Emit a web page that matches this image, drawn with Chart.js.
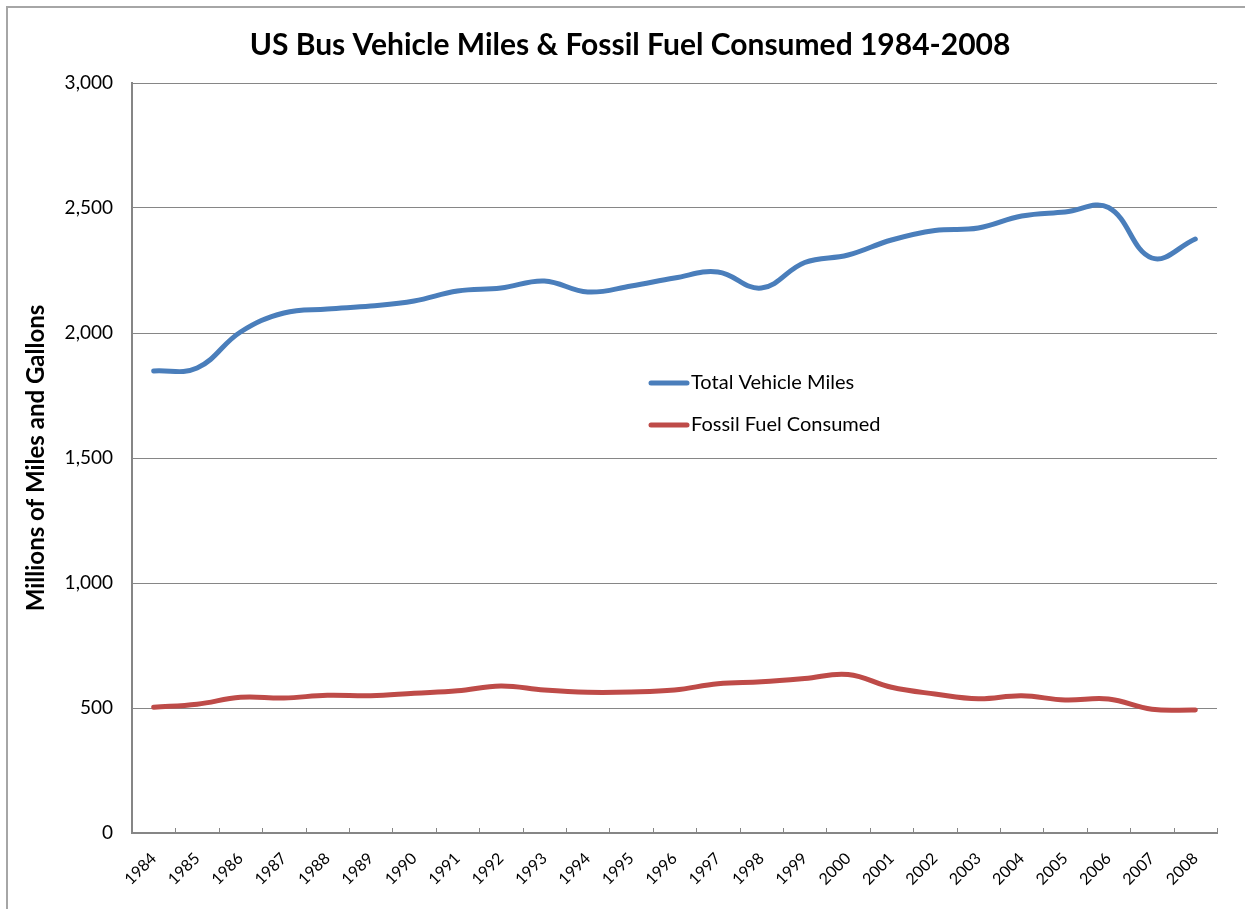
<html lang="en">
<head>
  <meta charset="UTF-8">
  <title>US Bus Vehicle Miles &amp; Fossil Fuel Consumed</title>
  <script src="https://cdn.jsdelivr.net/npm/chart.js"></script>
  <style>
    body { margin: 0; background: #fff; }
    #wrap { position: relative; width: 1245px; height: 909px; }
  </style>
</head>
<body>
  <div id="wrap">
    <canvas id="busChart" width="1245" height="909"></canvas>
  </div>
  <script>
    const years = ["1984", "1985", "1986", "1987", "1988", "1989", "1990", "1991", "1992",
      "1993", "1994", "1995", "1996", "1997", "1998", "1999", "2000", "2001", "2002",
      "2003", "2004", "2005", "2006", "2007", "2008"];

    // millions of miles
    const vehicleMiles = [1848, 1860, 2004, 2080, 2096, 2108, 2128, 2168, 2180,
      2208, 2164, 2188, 2220, 2244, 2180, 2282, 2312, 2372, 2410,
      2420, 2468, 2484, 2502, 2300, 2376];

    // millions of gallons
    const fuelConsumed = [503, 515, 543, 540, 551, 549, 559, 569, 588,
      572, 563, 564, 572, 597, 605, 618, 634, 583, 556,
      537, 549, 532, 536, 495, 492];

    const yTicks = [0, 500, 1000, 1500, 2000, 2500, 3000];

    const chartTitle = 'US Bus Vehicle Miles & Fossil Fuel Consumed 1984-2008';
    const FONT = "Lato, 'Open Sans', sans-serif";
    const gridGray = '#868686';

    // white page, thin frame on the top and left edge, and the title
    const framePlugin = {
      id: 'frame',
      beforeDraw(chart) {
        const ctx = chart.ctx;
        ctx.save();
        ctx.fillStyle = '#fff';
        ctx.fillRect(0, 0, chart.width, chart.height);
        ctx.strokeStyle = '#a6a6a6';
        ctx.lineWidth = 2;
        ctx.beginPath();
        ctx.moveTo(7, chart.height);
        ctx.lineTo(7, 7);
        ctx.lineTo(chart.width, 7);
        ctx.stroke();

        ctx.fillStyle = '#000';
        ctx.font = `bold 30px ${FONT}`;
        ctx.textAlign = 'center';
        ctx.textBaseline = 'middle';
        ctx.fillText(chartTitle, 630, 45);
        ctx.restore();
      }
    };

    // short tick marks pointing up into the plot, between the years
    const innerTicks = {
      id: 'innerTicks',
      afterDraw(chart) {
        const x = chart.scales.x;
        const ctx = chart.ctx;
        ctx.save();
        ctx.strokeStyle = gridGray;
        ctx.lineWidth = 1;
        ctx.beginPath();
        for (let i = 0; i <= years.length; i++) {
          const px = Math.round(x.getPixelForValue(i - 0.5)) + 0.5;
          ctx.moveTo(px, x.top);
          ctx.lineTo(px, x.top - 5);
        }
        ctx.stroke();
        ctx.restore();
      }
    };

    // legend sits inside the plot, stacked
    const innerLegend = {
      id: 'innerLegend',
      afterDatasetsDraw(chart) {
        const ctx = chart.ctx;
        const x0 = 651, y0 = 383, gap = 42;
        ctx.save();
        ctx.font = `20px ${FONT}`;
        ctx.textBaseline = 'middle';
        ctx.textAlign = 'left';
        chart.data.datasets.forEach((ds, i) => {
          const y = y0 + i * gap;
          ctx.strokeStyle = ds.borderColor;
          ctx.lineWidth = 5;
          ctx.lineCap = 'round';
          ctx.beginPath();
          ctx.moveTo(x0, y);
          ctx.lineTo(x0 + 36, y);
          ctx.stroke();
          ctx.fillStyle = '#000';
          ctx.fillText(ds.label, x0 + 40, y);
        });
        ctx.restore();
      }
    };

    const ctx = document.getElementById('busChart').getContext('2d');
    new Chart(ctx, {
      type: 'line',
      data: {
        labels: years,
        datasets: [
          {
            label: 'Total Vehicle Miles',
            data: vehicleMiles,
            borderColor: '#4a7ebb',
            borderWidth: 5,
            tension: 0.4,
            pointRadius: 0,
            borderCapStyle: 'round'
          },
          {
            label: 'Fossil Fuel Consumed',
            data: fuelConsumed,
            borderColor: '#be4b48',
            borderWidth: 5,
            tension: 0.4,
            pointRadius: 0,
            borderCapStyle: 'round'
          }
        ]
      },
      options: {
        responsive: false,
        animation: false,
        layout: { padding: { left: 8, right: 28, top: 83, bottom: 0 } },
        plugins: {
          legend: { display: false },
          tooltip: { enabled: false },
          title: { display: false }
        },
        scales: {
          x: {
            offset: true,
            grid: { display: false, offset: true },
            border: { color: gridGray, width: 2 },
            ticks: {
              autoSkip: false,
              minRotation: 45,
              maxRotation: 45,
              padding: 8,
              color: '#000',
              font: { family: FONT, size: 16 }
            },
            afterFit(scale) { scale.height = 76; }
          },
          y: {
            min: 0,
            max: 3000,
            afterBuildTicks(scale) { scale.ticks = yTicks.map(v => ({ value: v })); },
            grid: { color: gridGray, lineWidth: 1, drawTicks: false },
            border: { color: gridGray, width: 2 },
            ticks: {
              padding: 19,
              color: '#000',
              font: { family: FONT, size: 19 },
              callback: v => v.toLocaleString('en-US')
            },
            title: {
              display: true,
              text: 'Millions of Miles and Gallons',
              color: '#000',
              font: { family: FONT, size: 24, weight: 'bold' },
              padding: { top: 14, bottom: 0 }
            },
            afterFit(scale) { scale.width = 124; }
          }
        }
      },
      plugins: [framePlugin, innerTicks, innerLegend]
    });
  </script>
</body>
</html>
